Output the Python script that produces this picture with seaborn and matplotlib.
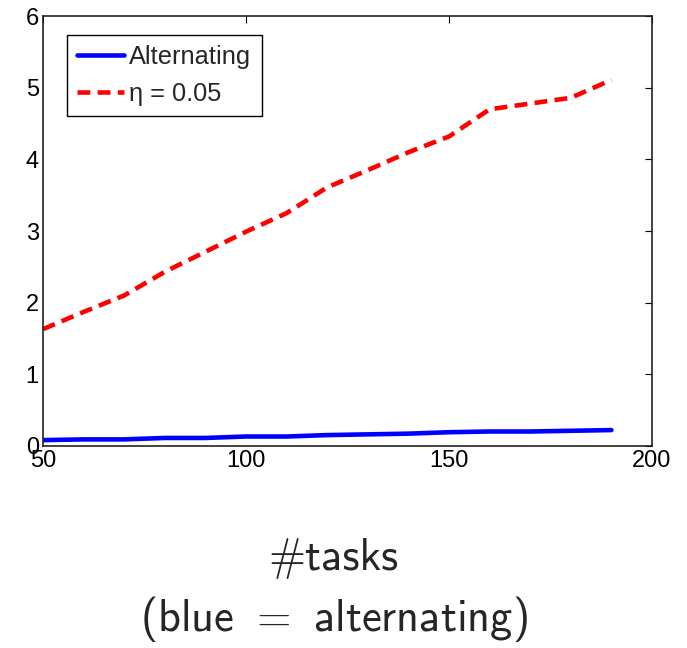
import matplotlib
matplotlib.use("Agg")
import matplotlib.pyplot as plt
import seaborn as sns
import pandas as pd

tasks = [50, 60, 70, 80, 90, 100, 110, 120, 130, 140, 150, 160, 170, 180, 190]
alternating = [0.08, 0.09, 0.09, 0.11, 0.11, 0.13, 0.13, 0.15, 0.16, 0.17, 0.19, 0.20, 0.20, 0.21, 0.22]
eta_005 = [1.63, 1.87, 2.10, 2.43, 2.71, 2.99, 3.25, 3.61, 3.85, 4.10, 4.32, 4.70, 4.78, 4.86, 5.11]
series_names = ["Alternating", "\u03b7 = 0.05"]
xticks = [50, 100, 150, 200]
yticks = [0, 1, 2, 3, 4, 5, 6]

sns.set_style("white")
plt.rcParams["font.family"] = ["Liberation Sans", "DejaVu Sans"]
plt.rcParams["mathtext.fontset"] = "cm"

df = pd.DataFrame({
    "tasks": tasks * 2,
    "value": alternating + eta_005,
    "method": [series_names[0]] * len(tasks) + [series_names[1]] * len(tasks),
})

fig = plt.figure(figsize=(6.87, 6.48), dpi=100)
ax = fig.add_axes([0.0626, 0.312, 0.8864, 0.663])

sns.lineplot(data=df, x="tasks", y="value", hue="method", style="method",
             palette={series_names[0]: "#0000ff", series_names[1]: "#ff0000"},
             dashes={series_names[0]: "", series_names[1]: (2.8, 1.6)},
             linewidth=3.3, ax=ax, legend=True)

ax.set_xlim(50, 200)
ax.set_ylim(0, 6)
ax.set_xticks(xticks)
ax.set_yticks(yticks)
ax.tick_params(direction="in", length=5, width=0.8, top=True, right=True,
               labelsize=17, colors="black", pad=3)
ax.set_xlabel("")
ax.set_ylabel("")
for s in ax.spines.values():
    s.set_visible(True)
    s.set_color("#222222")
    s.set_linewidth(1.2)

leg = ax.legend(loc="upper left", bbox_to_anchor=(0.0394, 0.956), fontsize=18.3,
                frameon=True, fancybox=False, edgecolor="black", framealpha=1,
                handlelength=1.85, handletextpad=0.2, borderpad=0.4,
                labelspacing=0.5, borderaxespad=0.0)
leg.get_frame().set_linewidth(1.0)

fig.text(0.486, 0.138, "#tasks", ha="center", va="center", fontsize=32,
         family=["cmss10", "DejaVu Sans"])
fig.text(0.486, 0.044, "(blue $=$ alternating)", ha="center",
         va="center", fontsize=32, family=["cmss10", "DejaVu Sans"])

fig.savefig("out.png", dpi=100)
